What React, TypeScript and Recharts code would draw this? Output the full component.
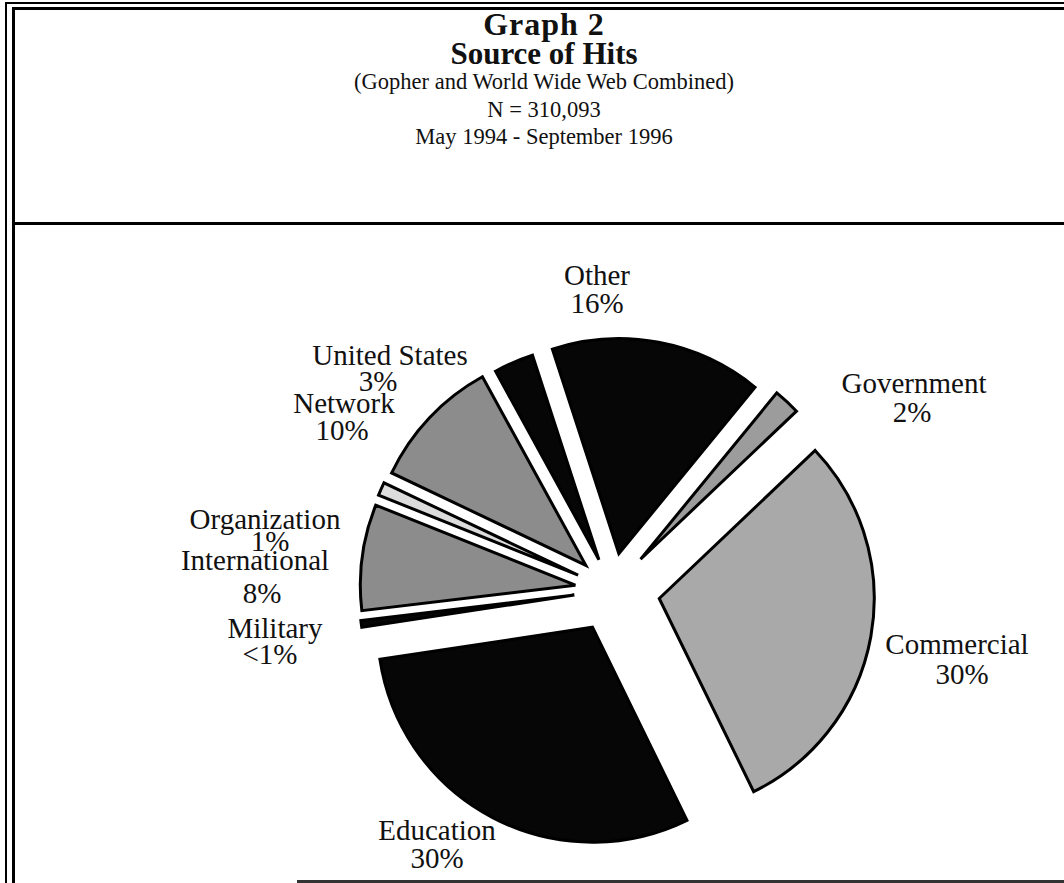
import React from "react";
import { PieChart, Pie, Cell, Sector } from "recharts";

// data (labelled shares, clockwise from the top)
const categories = ["Other", "Government", "Commercial", "Education", "Military", "International", "Organization", "Network", "United States"];
const shares = [16, 2, 30, 30, 0.5, 8, 1, 10, 3];
const shareLabels = ["16%", "2%", "30%", "30%", "<1%", "8%", "1%", "10%", "3%"];

const titleLines = [
  "Graph 2",
  "Source of Hits",
  "(Gopher and World Wide Web Combined)",
  "N = 310,093",
  "May 1994 - September 1996",
];

const data = categories.map((name, i) => ({ name, value: shares[i], pct: shareLabels[i] }));

// styling
const FONT = "'Liberation Serif', 'Times New Roman', serif";
const RAD = Math.PI / 180;

const sliceFill: Record<string, string> = {
  Other: "#060606",
  Government: "#9c9c9c",
  Commercial: "#a9a9a9",
  Education: "#060606",
  Military: "#060606",
  International: "#8c8c8c",
  Organization: "#dcdcdc",
  Network: "#8c8c8c",
  "United States": "#060606",
};

const explode: Record<string, number> = {
  Other: 37,
  Government: 42,
  Commercial: 48,
  Education: 42,
  Military: 38,
  International: 37,
  Organization: 37,
  Network: 36,
  "United States": 33,
};

// hand placed labels: [x, baseline] of the name, then of the share
const labelPos: Record<string, [number, number, number, number]> = {
  Other: [597, 285, 597, 313],
  Government: [914, 393, 912, 422],
  Commercial: [957, 654, 962, 684],
  Education: [437, 840, 437, 868],
  Military: [275, 638, 270, 664],
  International: [255, 570, 262, 603],
  Organization: [265, 529, 270, 551],
  Network: [344, 413, 342, 440],
  "United States": [390, 365, 378, 391],
};

function ExplodedSlice(props: any) {
  const { cx, cy, midAngle } = props;
  const name = props.payload?.name ?? props.name;
  const d = explode[name] ?? 36;
  const dx = d * Math.cos(-midAngle * RAD);
  const dy = d * Math.sin(-midAngle * RAD);
  return <Sector {...props} cx={cx + dx} cy={cy + dy} />;
}

function SliceLabel(props: any) {
  const name = props.payload?.name ?? props.name;
  const pct = props.payload?.pct;
  const [x1, y1, x2, y2] = labelPos[name];
  return (
    <g fontFamily={FONT} fontSize={29} fill="#111">
      <text x={x1} y={y1} textAnchor="middle">{name}</text>
      <text x={x2} y={y2} textAnchor="middle">{pct}</text>
    </g>
  );
}

export default function App() {
  return (
    <div style={{ position: "absolute", left: 0, top: 0, width: 1064, height: 883, background: "#fff", overflow: "hidden" }}>
      {/* double frame on the left and top */}
      <div style={{ position: "absolute", left: 5, top: 2, width: 1070, height: 2, background: "#000" }} />
      <div style={{ position: "absolute", left: 5, top: 2, width: 2, height: 890, background: "#000" }} />
      <div style={{ position: "absolute", left: 12, top: 7, width: 1060, height: 3, background: "#000" }} />
      <div style={{ position: "absolute", left: 12, top: 7, width: 3, height: 890, background: "#000" }} />
      {/* header divider */}
      <div style={{ position: "absolute", left: 12, top: 222, width: 1060, height: 3, background: "#000" }} />
      {/* bottom edge */}
      <div style={{ position: "absolute", left: 297, top: 880, width: 780, height: 3, background: "#333" }} />

      <div style={{ position: "absolute", left: 12, top: 9, width: 1064, textAlign: "center", fontFamily: FONT, color: "#111" }}>
        <div style={{ fontSize: 32, fontWeight: 700, lineHeight: "30px", letterSpacing: 1 }}>{titleLines[0]}</div>
        <div style={{ fontSize: 31, fontWeight: 700, lineHeight: "29px" }}>{titleLines[1]}</div>
        <div style={{ fontSize: 22.5, lineHeight: "28px" }}>{titleLines[2]}</div>
        <div style={{ fontSize: 22.5, lineHeight: "27px" }}>{titleLines[3]}</div>
        <div style={{ fontSize: 22.5, lineHeight: "27px" }}>{titleLines[4]}</div>
      </div>

      <div style={{ position: "absolute", left: 0, top: 0 }}>
        <PieChart width={1064} height={883} margin={{ top: 0, right: 0, bottom: 0, left: 0 }}>
          <Pie
            data={data}
            dataKey="value"
            nameKey="name"
            cx={612}
            cy={590}
            innerRadius={0}
            outerRadius={215}
            startAngle={108}
            endAngle={-252}
            stroke="#000"
            strokeWidth={3}
            isAnimationActive={false}
            shape={ExplodedSlice}
            activeShape={ExplodedSlice}
            inactiveShape={ExplodedSlice}
            label={SliceLabel}
            labelLine={false}
          >
            {data.map((d) => (
              <Cell key={d.name} fill={sliceFill[d.name]} stroke="#000" />
            ))}
          </Pie>
        </PieChart>
      </div>
    </div>
  );
}
